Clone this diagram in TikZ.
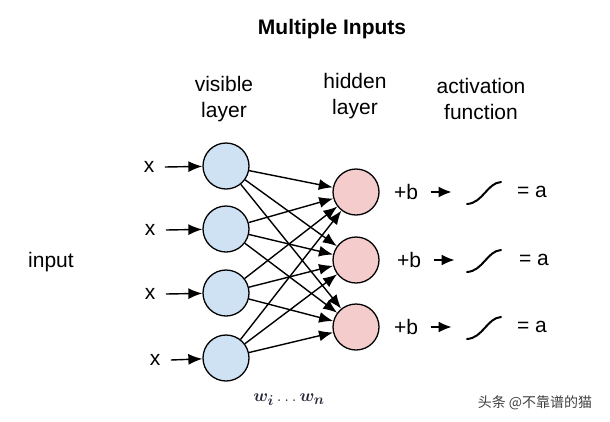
\documentclass[tikz,border=0pt]{standalone}
\usepackage{amsmath}
\usepackage{fontspec}
\setmainfont{Liberation Sans}
\newfontfamily\cjkfont{Noto Sans CJK SC}
\usetikzlibrary{positioning, arrows.meta}
\definecolor{visblue}{RGB}{207,226,243}
\definecolor{hidpink}{RGB}{244,204,204}
\definecolor{wcol}{RGB}{40,40,60}
\tikzset{
  visnode/.style={
    draw,
    circle,
    line width=1.3pt,
    minimum size=46pt,
    inner sep=0pt,
    fill=visblue
  },
  hidnode/.style={
    draw,
    circle,
    line width=1.3pt,
    minimum size=46pt,
    inner sep=0pt,
    fill=hidpink
  },
  lbl/.style={
    align=center,
    font=\fontsize{21}{26}\selectfont
  },
  wire/.style={
    line width=1.4pt,
    -{Latex[length=14pt,width=11pt]}
  }
}

\begin{document}
\begin{tikzpicture}[x=1pt, y=-1pt]
      \useasboundingbox (0,0) rectangle (610,421);

      \node[lbl, font=\bfseries\fontsize{21}{26}\selectfont] (title) at (332,29) {Multiple Inputs};
      \node[lbl] (vislbl) at (224,99) {visible\\layer};
      \node[lbl] (hidlbl) at (355,96) {hidden\\layer};
      \node[lbl] (actlbl) at (481,99) {activation\\function};
      \node[lbl] (input) at (51,262) {input};

      % visible layer
      \node[visnode] (v1) at (226,166) {};
      \node[visnode] (v2) at (226,229) {};
      \node[visnode] (v3) at (226,293) {};
      \node[visnode] (v4) at (226,358) {};

      \node[lbl] (x1) at (149,167) {x};
      \node[lbl] (x2) at (150,230) {x};
      \node[lbl] (x3) at (150,294) {x};
      \node[lbl] (x4) at (155,360) {x};

      % hidden layer
      \node[hidnode] (h1) at (356,192) {};
      \node[hidnode] (h2) at (356,260) {};
      \node[hidnode] (h3) at (356,327) {};

      % inputs
      \draw[wire] ([xshift=7pt]x1.east) -- (v1);
      \draw[wire] ([xshift=7pt]x2.east) -- (v2);
      \draw[wire] ([xshift=7pt]x3.east) -- (v3);
      \draw[wire] ([xshift=7pt]x4.east) -- (v4);

      % weights
      \foreach \i in {1,...,4}
        \foreach \j in {1,...,3}
          \draw[wire] (v\i) -- (h\j);

      \node[font=\fontsize{19}{22}\selectfont, text=wcol] (w) at (289,400) {$\boldsymbol{w_i}\,{\ldots}\,\boldsymbol{w_n}$};

      % bias and activation
      \foreach \j/\y/\bx/\ax in {1/192/406/532, 2/260/409/534, 3/327/406/532} {
        \node[lbl] (b\j) at (\bx,\y) {+b};
        \coordinate (s\j) at (467,\y+12);
        \draw[line width=1.4pt, -{Latex[length=13pt,width=11pt]}] ([xshift=9pt]b\j.east) -- ++(21,0);
        \draw[line width=2pt, line cap=round] (s\j) .. controls ++(16,-1) and ++(-14,1) .. ++(34,-22);
        \node[lbl] (out\j) at (\ax,\y) {= a};
      }

      \node[font=\cjkfont\fontsize{14}{16}\selectfont, text=black!75] (mark) at (535,403) {头条 @不靠谱的猫};
\end{tikzpicture}
\end{document}
